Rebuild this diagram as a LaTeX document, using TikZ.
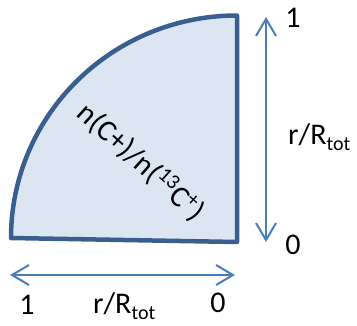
\documentclass[tikz,border=0pt]{standalone}
\usepackage{fontspec}
\setmainfont{Carlito}
\usetikzlibrary{arrows.meta}
\definecolor{edgec}{HTML}{3A5F8F}
\definecolor{fillc}{HTML}{DCE6F2}
\definecolor{arrc}{HTML}{4A7EBB}
\newcommand{\myrtot}{r/R\raisebox{-0.22em}{\fontsize{20}{20}\selectfont tot}}
\begin{document}
\begin{tikzpicture}[x=1pt,y=1pt,
  lbl/.style={inner sep=0pt, font=\fontsize{30}{36}\selectfont},
  axisarrow/.style={arrc, line width=2pt,
    {Straight Barb[length=17pt,width=20pt]}-{Straight Barb[length=17pt,width=20pt]}}]
\useasboundingbox (0,0) rectangle (357,325);
% quarter disc
\draw[edgec, fill=fillc, line width=4.5pt, line join=round]
  (237,309.5) -- (237,83) -- (11,87)
  arc[start angle=180, end angle=90, x radius=226, y radius=222.5] -- cycle;
\node[lbl, rotate=-42] (ratio) at (141,163) {n(C+)/n(\textsuperscript{13}C\textsuperscript{+})};
% vertical axis
\coordinate (vtop) at (266,308);
\coordinate (vbot) at (266,83);
\draw[axisarrow] (vbot) -- (vtop);
\node[lbl] (vone) at (293,307) {1};
\node[lbl, anchor=base west] (vlab) at (288,181) {\myrtot};
\node[lbl] (vzero) at (293,80) {0};
% horizontal axis
\coordinate (hleft) at (10,50);
\coordinate (hright) at (235,50);
\draw[axisarrow] (hleft) -- (hright);
\node[lbl] (hone) at (27,20) {1};
\node[lbl, anchor=base west] (hlab) at (93,12) {\myrtot};
\node[lbl] (hzero) at (218,22) {0};
\end{tikzpicture}
\end{document}
